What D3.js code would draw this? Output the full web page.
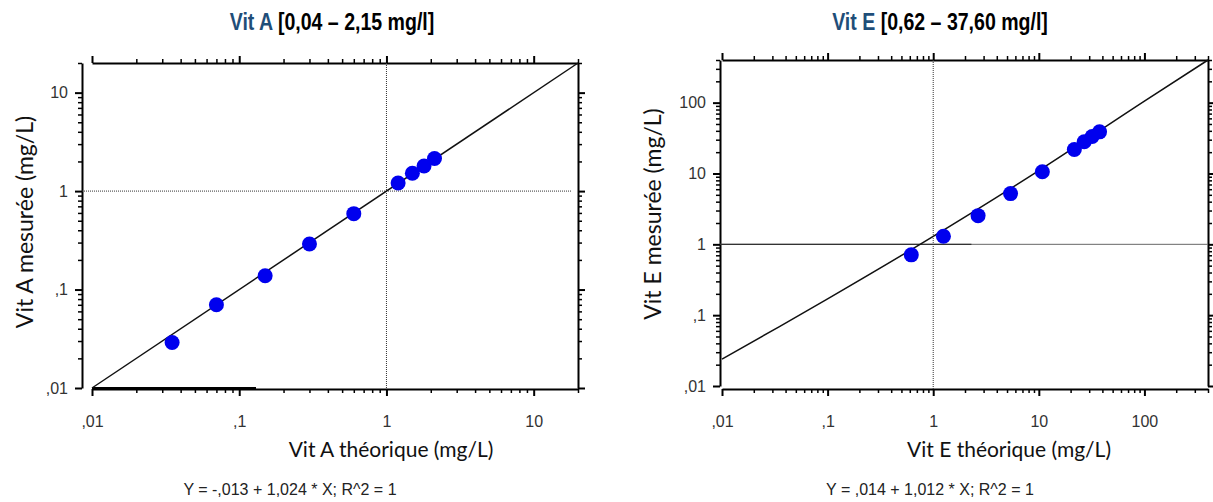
<!DOCTYPE html>
<html>
<head>
<meta charset="utf-8">
<script src="https://cdn.jsdelivr.net/npm/d3@7"></script>
<style>
  body { margin: 0; background: #fff; }
  svg { display: block; }
</style>
</head>
<body>
<div class="chart"></div>
<script>
// Vit A : théorique vs mesurée (mg/L)
const vitATheo = [0.035, 0.07, 0.15, 0.3, 0.6, 1.2, 1.5, 1.8, 2.12];
const vitAMes  = [0.029, 0.07, 0.138, 0.29, 0.59, 1.21, 1.52, 1.8, 2.14];
// droite tracée
const fitAX = [0.01, 20];
const fitAY = [0.01, 20];

// Vit E
const vitETheo = [0.62, 1.25, 2.66, 5.4, 10.8, 21.7, 26.9, 32, 37.6];
const vitEMes  = [0.71, 1.3, 2.54, 5.2, 10.6, 21.8, 28, 33.3, 38.7];
const fitEX = [0.01, 0.035, 0.1, 0.75, 10, 100, 400];
const fitEY = [0.024, 0.069, 0.17, 1.0, 11, 105, 400];

const ticksA = [0.01, 0.1, 1, 10];
const ticksE = [0.01, 0.1, 1, 10, 100];

const titles = ["Vit A", "Vit E"];
const ranges = ["[0,04 \u2013 2,15 mg/l]", "[0,62 \u2013 37,60 mg/l]"];
const xTitles = ["Vit A th\u00e9orique (mg/L)", "Vit E th\u00e9orique (mg/L)"];
const yTitles = ["Vit A mesur\u00e9e (mg/L)", "Vit E mesur\u00e9e (mg/L)"];
const equations = ["Y = -,013 + 1,024 * X; R^2 = 1", "Y = ,014 + 1,012 * X; R^2 = 1"];

const W = 1213, H = 502;

const svg = d3.select('.chart').append('svg')
  .attr('width', W)
  .attr('height', H);

const fmt = d => d < 1 ? String(d).replace('0.', ',') : String(d);

// minor ticks 2..9 of each decade inside the domain
function minorTicks(domain) {
  const out = [];
  for (let e = Math.floor(Math.log10(domain[0])); e <= Math.ceil(Math.log10(domain[1])); e++) {
    for (let m = 2; m <= 9; m++) {
      const v = m * Math.pow(10, e);
      if (v > domain[0] && v <= domain[1] * 1.0001) out.push(v);
    }
  }
  return out;
}

function panel(p) {
  const g = svg.append('g');

  const x = d3.scaleLog().domain(p.domain).range([p.x0, p.x1]);
  const y = d3.scaleLog().domain(p.domain).range([p.y1, p.y0]);
  const minor = minorTicks(p.domain);

  const axes = [
    { ax: () => d3.axisBottom(x), t: `translate(0,${p.yBottom})`, lab: true, pad: 20 },
    { ax: () => d3.axisTop(x), t: `translate(0,${p.y0})`, lab: false, pad: 3 },
    { ax: () => d3.axisLeft(y), t: `translate(${p.xLeft},0)`, lab: true, pad: 7 },
    { ax: () => d3.axisRight(y), t: `translate(${p.x1},0)`, lab: false, pad: 3 }
  ];

  axes.forEach(a => {
    const major = g.append('g')
      .attr('transform', a.t)
      .call(a.ax().tickValues(p.ticks).tickFormat(a.lab ? fmt : '').tickSize(7).tickSizeOuter(0).tickPadding(a.pad));
    major.select('.domain').attr('stroke-width', 2);
    major.selectAll('.tick line').attr('stroke-width', 2);
    major.selectAll('.tick text')
      .style('font-family', '"Liberation Sans", Arial, sans-serif')
      .style('font-size', '16px')
      .attr('fill', '#333');

    const mg = g.append('g')
      .attr('transform', a.t)
      .call(a.ax().tickValues(minor).tickFormat('').tickSize(4).tickSizeOuter(0));
    mg.select('.domain').remove();
    mg.selectAll('.tick line').attr('stroke-width', 1.5);
  });

  // reference lines at 1
  g.append('line')
    .attr('x1', p.xLeft).attr('x2', p.hEnd)
    .attr('y1', y(1)).attr('y2', y(1))
    .attr('stroke', p.hColor)
    .attr('stroke-width', 1)
    .attr('stroke-dasharray', p.hDash);

  // darker stretch of the y = 1 line (right panel)
  if (p.hDarkTo) {
    g.append('line')
      .attr('x1', p.xLeft).attr('x2', x(p.hDarkTo))
      .attr('y1', y(1)).attr('y2', y(1))
      .attr('stroke', '#333')
      .attr('stroke-width', 1.2);
  }

  g.append('line')
    .attr('x1', x(1)).attr('x2', x(1))
    .attr('y1', p.y0).attr('y2', p.yBottom)
    .attr('stroke', '#333')
    .attr('stroke-width', 1)
    .attr('stroke-dasharray', '1,1');

  // thicker stretch of the bottom axis (left panel)
  if (p.baseTo) {
    g.append('line')
      .attr('x1', p.x0).attr('x2', x(p.baseTo))
      .attr('y1', p.yBottom - 0.5).attr('y2', p.yBottom - 0.5)
      .attr('stroke', '#000')
      .attr('stroke-width', 3);
  }

  // fitted line
  const line = d3.line()
    .x(d => x(d[0]))
    .y(d => y(d[1]))
    .curve(d3.curveMonotoneX);

  g.append('path')
    .datum(d3.zip(p.fitX, p.fitY))
    .attr('fill', 'none')
    .attr('stroke', '#111')
    .attr('stroke-width', 1.5)
    .attr('d', line);

  // points
  g.append('g')
    .selectAll('circle')
    .data(d3.zip(p.xs, p.ys))
    .enter()
    .append('circle')
    .attr('cx', d => x(d[0]))
    .attr('cy', d => y(d[1]))
    .attr('r', 7.5)
    .attr('fill', '#0000ee');

  // title
  const t = g.append('text')
    .attr('transform', `translate(${p.titleX},30) scale(0.85,1)`)
    .attr('text-anchor', 'middle')
    .style('font-family', '"Liberation Sans", Arial, sans-serif')
    .style('font-weight', 'bold')
    .style('font-size', '23px');
  t.append('tspan').attr('fill', '#1f4e79').text(p.title + ' ');
  t.append('tspan').attr('fill', '#000').text(p.range);

  // axis titles
  g.append('text')
    .attr('x', p.xTitleX)
    .attr('y', 457)
    .attr('text-anchor', 'middle')
    .style('font-family', 'Lato, "Open Sans", sans-serif')
    .style('font-size', '21px')
    .attr('fill', '#111')
    .text(p.xTitle);

  g.append('text')
    .attr('transform', `translate(${p.yTitleX},${p.yTitleY}) rotate(-90)`)
    .attr('text-anchor', 'middle')
    .style('font-family', 'Lato, "Open Sans", sans-serif')
    .style('font-size', '23px')
    .attr('fill', '#111')
    .text(p.yTitle);

  g.append('text')
    .attr('x', p.eqX)
    .attr('y', 495)
    .attr('text-anchor', 'middle')
    .style('font-family', '"Liberation Sans", Arial, sans-serif')
    .style('font-size', '16px')
    .attr('fill', '#222')
    .text(p.eq);
}

panel({
  domain: [0.01, 20], ticks: ticksA,
  x0: 92, x1: 578, y0: 63, y1: 388, yBottom: 389, xLeft: 82,
  hEnd: 572, hColor: '#333', hDash: '1,1', baseTo: 0.13,
  xs: vitATheo, ys: vitAMes, fitX: fitAX, fitY: fitAY,
  title: titles[0], range: ranges[0], titleX: 332,
  xTitle: xTitles[0], xTitleX: 391,
  yTitle: yTitles[0], yTitleX: 33, yTitleY: 222,
  eq: equations[0], eqX: 290
});

panel({
  domain: [0.01, 400], ticks: ticksE,
  x0: 722, x1: 1208, y0: 60, y1: 386, yBottom: 389, xLeft: 720,
  hEnd: 1208, hColor: '#666', hDash: null, hDarkTo: 2.3,
  xs: vitETheo, ys: vitEMes, fitX: fitEX, fitY: fitEY,
  title: titles[1], range: ranges[1], titleX: 940,
  xTitle: xTitles[1], xTitleX: 1009,
  yTitle: yTitles[1], yTitleX: 661, yTitleY: 214,
  eq: equations[1], eqX: 930
});
</script>
</body>
</html>
